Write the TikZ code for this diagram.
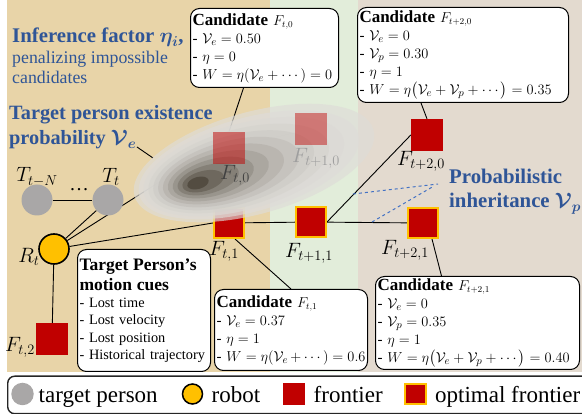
\documentclass[tikz,border=0pt]{standalone}
\usepackage{fontspec}
\setmainfont{Liberation Serif}
\usepackage{amsmath,bm}
\usetikzlibrary{calc}
\definecolor{tanbg}{HTML}{E8D4A8}
\definecolor{greenbg}{HTML}{E2EDDA}
\definecolor{beigebg}{HTML}{E3DACF}
\definecolor{fred}{HTML}{C00000}
\definecolor{fgold}{HTML}{FFC000}
\definecolor{tgray}{HTML}{A9A7A7}
\definecolor{bluetxt}{HTML}{2F5597}
\definecolor{bluedash}{HTML}{4472C4}
\definecolor{blobout}{HTML}{DEDCD8}
\definecolor{blobdark}{HTML}{463F33}
\pgfdeclarelayer{bg}
\pgfdeclarelayer{lines}
\pgfdeclarelayer{blob}
\pgfdeclarelayer{top}
\pgfsetlayers{bg,lines,main,blob,top}
\relpenalty=10000
\binoppenalty=10000
\newcommand{\candf}{\fontsize{17}{18}\selectfont\bfseries}
\newcommand{\candm}{\fontsize{13.5}{18}\selectfont}
\begin{document}
\begin{tikzpicture}[x=1pt,y=-1pt,
 conn/.style={draw=black, line width=0.9pt},
 frontier/.style={rectangle, fill=fred, minimum size=32pt, inner sep=0pt},
 optfrontier/.style={rectangle, fill=fred, draw=fgold, line width=2.2pt, minimum size=29.8pt, inner sep=0pt},
 person/.style={circle, fill=tgray, minimum size=31pt, inner sep=0pt},
 robotnode/.style={circle, fill=fgold, draw=black, line width=1.6pt, minimum size=30pt, inner sep=0pt},
 flabel/.style={font=\fontsize{19.5}{21}\selectfont, inner sep=0pt},
 cbox/.style={draw=black, line width=1pt, rounded corners=9pt, fill=white, anchor=north west, align=left, inner xsep=2pt, inner ysep=2pt, font=\fontsize{15}{18}\selectfont},
 bluetext/.style={text=bluetxt, inner sep=0pt, anchor=base west},
 legtext/.style={inner sep=0pt, anchor=base west, font=\fontsize{23}{25}\selectfont}
]
\useasboundingbox (0,0) rectangle (582,414);
\clip (0,0) rectangle (582,414);

\begin{pgfonlayer}{bg}
\fill[tanbg] (7,0) rectangle (270,372);
\fill[greenbg] (270,0) rectangle (358,372);
\fill[beigebg] (358,0) rectangle (582,372);
\end{pgfonlayer}

% persons and robot
\node[person] (TN) at (37,200) {};
\node[person] (Tt) at (108,200) {};
\node[flabel] (TNl) at (37,177) {$T_{t-N}$};
\node[flabel] (Ttl) at (111,177) {$T_t$};
\node[flabel] (dots) at (79,190) {\ldots};
\node[robotnode] (R) at (54,249) {};
\node[flabel] (Rl) at (29,257) {$R_t$};

% frontiers
\node[frontier] (Ft2) at (52,339) {};
\node[flabel] (Ft2l) at (20,347) {$F_{t,2}$};
\node[optfrontier] (Ft1) at (229,223) {};
\node[optfrontier] (Ft11) at (311,222) {};
\node[optfrontier] (Ft21) at (423,223) {};
\node[frontier] (Ft20) at (427,135) {};
\node[flabel] (Ft1l) at (224,251) {$F_{t,1}$};
\node[flabel] (Ft11l) at (309,253) {$F_{t+1,1}$};
\node[flabel] (Ft21l) at (405,250) {$F_{t+2,1}$};
\node[flabel] (Ft20l) at (421,161) {$F_{t+2,0}$};

\begin{pgfonlayer}{top}
\node[frontier, fill opacity=0.5] (Ft0) at (229,148) {};
\node[frontier, fill opacity=0.45] (Ft10) at (311,129) {};
\node[flabel, text=black!75] (Ft0l) at (235,175) {$F_{t,0}$};
\node[flabel, text=black!38] (Ft10l) at (316,158) {$F_{t+1,0}$};
\end{pgfonlayer}

% blob
\begin{pgfonlayer}{blob}
\foreach \k in {0,...,11}{
  \pgfmathsetmacro{\tv}{\k/11}
  \pgfmathsetmacro{\cx}{254-56*\tv}
  \pgfmathsetmacro{\cy}{163+20*\tv}
  \pgfmathsetmacro{\ra}{124-113*\tv}
  \pgfmathsetmacro{\rb}{51-45*\tv}
  \pgfmathtruncatemacro{\pc}{100*(\tv^2.1)}
  \colorlet{bc}{blobdark!\pc!blobout}
  \fill[bc, fill opacity=0.66, rotate around={15.5:(\cx,\cy)}] (\cx,\cy) ellipse [x radius=\ra, y radius=\rb];
}
\end{pgfonlayer}

% boxes
\node[cbox, text width=144pt, minimum height=79pt] (B0) at (190,8) {%
{\candf Candidate} {\candm$F_{t,0}$}\\
- $\mathcal{V}_e = 0.50$\\
- $\eta = 0$\\
- $W = \eta(\mathcal{V}_e + \cdots) = 0$};
\node[cbox, text width=207pt, minimum height=95pt] (B20) at (357,7) {%
{\candf Candidate} {\candm$F_{t+2,0}$}\\
- $\mathcal{V}_e = 0$\\
- $\mathcal{V}_p = 0.30$\\
- $\eta = 1$\\
- $W = \eta\bigl(\mathcal{V}_e + \mathcal{V}_p + \cdots\bigr) = 0.35$};
\node[cbox, text width=129pt, minimum height=122pt, font=\fontsize{14.3}{17.3}\selectfont] (BM) at (77,249) {%
{\fontsize{17.5}{17.5}\selectfont\bfseries Target Person’s}\\[3pt]
{\fontsize{17.5}{17.5}\selectfont\bfseries motion cues}\\
- Lost time\\
- Lost velocity\\
- Lost position\\
- Historical trajectory};
\node[cbox, text width=149pt, minimum height=81pt] (B1) at (214,289) {%
{\candf Candidate} {\candm$F_{t,1}$}\\
- $\mathcal{V}_e = 0.37$\\
- $\eta = 1$\\
- $W = \eta(\mathcal{V}_e + \cdots) = 0.6$};
\node[cbox, text width=200pt, minimum height=93pt] (B21) at (375,276) {%
{\candf Candidate} {\candm$F_{t+2,1}$}\\
- $\mathcal{V}_e = 0$\\
- $\mathcal{V}_p = 0.35$\\
- $\eta = 1$\\
- $W = \eta\bigl(\mathcal{V}_e + \mathcal{V}_p + \cdots\bigr) = 0.40$};

% blue texts
\node[bluetext, font=\fontsize{20.8}{22}\selectfont\bfseries] (inf) at (12,43) {Inference factor $\bm{\eta_i}$,};
\node[bluetext, font=\fontsize{17.8}{20}\selectfont] (pen1) at (12,64) {penalizing impossible};
\node[bluetext, font=\fontsize{17.8}{20}\selectfont] (pen2) at (12,84) {candidates};
\node[bluetext, font=\fontsize{20.3}{22}\selectfont\bfseries] (tpe1) at (9,120) {Target person existence};
\node[bluetext, font=\fontsize{20.3}{22}\selectfont\bfseries] (tpe2) at (9,145) {probability $\bm{\mathcal{V}_e}$};
\node[bluetext, font=\fontsize{20.8}{22}\selectfont\bfseries] (pi1) at (449,184) {Probabilistic};
\node[bluetext, font=\fontsize{20.8}{22}\selectfont\bfseries] (pi2) at (449,208) {inheritance $\bm{\mathcal{V}_p}$};

\coordinate (veA) at (137,147);
\coordinate (veB) at (153,158);
\coordinate (piA) at (438,184);
\coordinate (piB) at (434,186);
\coordinate (dA) at (353,194);
\coordinate (dB) at (372,222);

\begin{pgfonlayer}{lines}
\draw[conn] (TN) -- (Tt);
\draw[conn] (R) -- (Tt);
\draw[conn] (R) -- (Ft0.west);
\draw[conn] (R) -- (Ft1.west);
\draw[conn] (R) -- (Ft2);
\draw[conn] (Ft0) -- (Ft10);
\draw[conn] (Ft1) -- (Ft11);
\draw[conn] (Ft11) -- (Ft21);
\draw[conn] (Ft11.east) -- (Ft20.west);
\draw[conn] ([xshift=-21pt]B0.south) -- (Ft0.north);
\draw[conn] ([xshift=-42pt]B20.south) -- (Ft20.north);
\draw[conn] ([xshift=6pt]Ft1.south) -- (B1.north);
\draw[conn] ([xshift=9pt]Ft21.south) -- ([xshift=-36pt]B21.north);
\draw[conn] (veA) -- (veB);
\draw[bluedash, line width=1pt, dashed] (dA) -- (piA);
\draw[bluedash, line width=1pt, dashed] (dB) -- (piB);
\end{pgfonlayer}

% legend
\node[draw=black!85, line width=1.4pt, rounded corners=7pt, minimum width=620pt, minimum height=37.5pt, anchor=north west, inner sep=0pt] (legend) at (7,375.5) {};
\node[person, minimum size=22.5pt] (lgP) at (22.5,394) {};
\node[legtext] (lgPt) at (38.5,403) {target person};
\node[robotnode, minimum size=20pt, line width=1.5pt] (lgR) at (192.5,394) {};
\node[legtext] (lgRt) at (211.5,403) {robot};
\node[frontier, minimum size=22pt] (lgF) at (294,394) {};
\node[legtext] (lgFt) at (313.5,403) {frontier};
\node[optfrontier, minimum size=20.5pt, line width=1.6pt] (lgO) at (415.5,394) {};
\node[legtext] (lgOt) at (435,403) {optimal frontier};
\end{tikzpicture}
\end{document}
